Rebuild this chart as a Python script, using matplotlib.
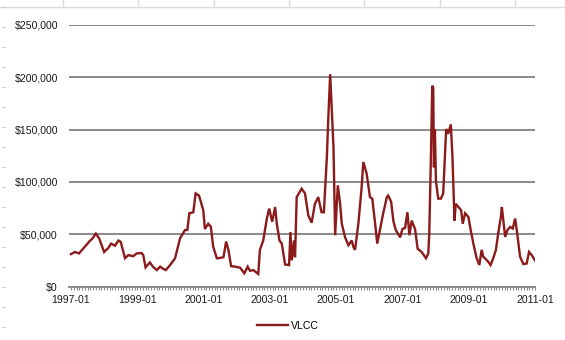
import matplotlib
matplotlib.use("Agg")
import matplotlib.pyplot as plt
from matplotlib.lines import Line2D
from matplotlib.ticker import FuncFormatter, MultipleLocator, FixedLocator

plt.rcParams['font.family'] = ['Liberation Sans', 'DejaVu Sans']

# Time in decimal years, VLCC earnings in thousands of $/day
years = [
    1997.00, 1997.12, 1997.24, 1997.57, 1997.65, 1997.75, 1997.85, 1998.00, 1998.13, 1998.21,
    1998.33, 1998.43, 1998.50, 1998.63, 1998.73, 1998.88, 1998.98, 1999.13, 1999.18, 1999.25,
    1999.38, 1999.47, 1999.59, 1999.69, 1999.79, 1999.86, 1999.99, 2000.14, 2000.29, 2000.44,
    2000.51, 2000.57, 2000.69, 2000.76, 2000.86, 2000.89, 2000.99, 2001.04, 2001.14, 2001.22,
    2001.29, 2001.40, 2001.44, 2001.60, 2001.68, 2001.75, 2001.83, 2001.95, 2002.10, 2002.23,
    2002.33, 2002.40, 2002.50, 2002.65, 2002.70, 2002.80, 2002.91, 2002.98, 2003.07, 2003.16,
    2003.21, 2003.29, 2003.36, 2003.46, 2003.58, 2003.62, 2003.66, 2003.73, 2003.76, 2003.81,
    2003.96, 2004.06, 2004.16, 2004.26, 2004.36, 2004.46, 2004.56, 2004.63, 2004.72, 2004.76,
    2004.82, 2004.87, 2004.92, 2004.97, 2005.05, 2005.12, 2005.17, 2005.27, 2005.37, 2005.47,
    2005.52, 2005.57, 2005.67, 2005.77, 2005.82, 2005.92, 2006.02, 2006.09, 2006.17, 2006.24,
    2006.32, 2006.42, 2006.53, 2006.57, 2006.66, 2006.73, 2006.80, 2006.93, 2007.00, 2007.08,
    2007.15, 2007.21, 2007.28, 2007.38, 2007.46, 2007.58, 2007.71, 2007.78, 2007.81, 2007.86,
    2007.90, 2007.93, 2007.95, 2007.98, 2008.01, 2008.08, 2008.16, 2008.23, 2008.29, 2008.32,
    2008.38, 2008.46, 2008.51, 2008.54, 2008.57, 2008.61, 2008.69, 2008.77, 2008.82, 2008.89,
    2008.99, 2009.06, 2009.14, 2009.24, 2009.32, 2009.39, 2009.44, 2009.49, 2009.59, 2009.66,
    2009.74, 2009.82, 2009.89, 2009.97, 2010.00, 2010.05, 2010.10, 2010.17, 2010.25, 2010.33,
    2010.40, 2010.45, 2010.50, 2010.55, 2010.65, 2010.75, 2010.82, 2010.90, 2011.00,
]
vlcc_k = [
    31, 33, 31.6, 43.6, 46, 50.6, 46, 33, 37, 41,
    39, 44, 42.7, 27, 30, 29, 31.6, 32, 30, 18.3,
    23, 19, 15.7, 19, 16.7, 15.7, 20.5, 27, 46, 54,
    54, 70, 71, 89, 87, 84, 73, 55, 60, 57,
    38, 27, 27, 28, 43, 35, 19.5, 19, 18, 12.6,
    19, 15, 15.7, 12, 35, 44, 65, 74.5, 62, 76,
    60, 44, 41, 21, 20.5, 52, 25, 44, 28, 85.5,
    93.5, 89, 68, 61, 79, 85.5, 71, 71, 123.6, 158.6,
    203, 168, 133, 49, 96.7, 79, 60, 47, 39.5, 44,
    38, 35, 60, 95, 119, 108, 85.5, 84, 62, 41,
    54, 70, 85.5, 87, 81, 62, 54, 47, 55, 56,
    71, 49, 63, 55, 36, 33, 27, 31.6, 50.7, 125,
    192, 190, 114, 150, 101, 84, 84, 89, 130, 150.6,
    146, 155, 123.6, 93.5, 63, 79, 76, 73, 60, 70,
    66.5, 54, 41, 27, 20.5, 35, 28.4, 27, 23.6, 20.5,
    27, 35, 50.7, 66.5, 76, 62, 47.4, 54, 57, 55.4,
    65, 54, 41, 28.4, 21.4, 22, 33, 30, 25,
]
vlcc = [v * 1000 for v in vlcc_k]
series_name = "VLCC"
y_ticks = [0, 50000, 100000, 150000, 200000, 250000]
x_label_years = [1997, 1999, 2001, 2003, 2005, 2007, 2009, 2011]

W, H = 565, 340
fig = plt.figure(figsize=(W / 100, H / 100), dpi=100)
fig.patch.set_facecolor('white')

# spreadsheet artefacts (light column ruler on top, row dashes at left)
fig.add_artist(Line2D([0, 1], [1 - 7 / H, 1 - 7 / H], transform=fig.transFigure,
                      color='#dcdcdc', lw=1))
for cx in [63, 138, 214, 289, 364, 440, 515]:
    fig.add_artist(Line2D([cx / W, cx / W], [1, 1 - 7 / H], transform=fig.transFigure,
                          color='#dcdcdc', lw=1))
for ry in range(7, 340, 20):
    fig.add_artist(Line2D([2 / W, 5 / W], [1 - ry / H, 1 - ry / H], transform=fig.transFigure,
                          color='#d0d0d0', lw=0.8))

left, right, top, bottom = 69, 535, 25, 286.5
ax = fig.add_axes([left / W, 1 - bottom / H, (right - left) / W, (bottom - top) / H])

ax.plot(years, vlcc, color='#8B1A1A', lw=1.7, solid_joinstyle='miter', zorder=3)

ax.set_ylim(0, 250000)
ax.set_xlim(1997 - 2 / 33.14, 2011.0)

ax.yaxis.set_major_locator(FixedLocator(y_ticks))
ax.yaxis.set_major_formatter(FuncFormatter(lambda v, p: "${:,.0f}".format(v)))
ax.grid(axis='y', color='#8a8a8a', lw=1.4, zorder=1)
ax.set_axisbelow(True)

ax.xaxis.set_major_locator(FixedLocator(x_label_years))
ax.xaxis.set_major_formatter(FuncFormatter(lambda v, p: "%d-01" % int(round(v))))
ax.xaxis.set_minor_locator(MultipleLocator(1 / 12))

for s in ['left', 'right', 'top']:
    ax.spines[s].set_visible(False)
ax.spines['bottom'].set_color('#8a8a8a')
ax.spines['bottom'].set_linewidth(1.4)

ax.tick_params(axis='y', length=0, pad=8, labelsize=7.6, labelcolor='#1a1a1a')
ax.tick_params(axis='x', which='both', direction='out', length=2, width=0.8,
               color='#8a8a8a', labelsize=7.6, labelcolor='#1a1a1a', pad=4)

handle = Line2D([], [], color='#8B1A1A', lw=1.7)
fig.legend([handle], [series_name], loc='center', bbox_to_anchor=(288 / W, 1 - 326 / H),
           frameon=False, fontsize=7.6, handlelength=2.9, handletextpad=0.3)

fig.savefig('out.png', dpi=100, facecolor='white')
